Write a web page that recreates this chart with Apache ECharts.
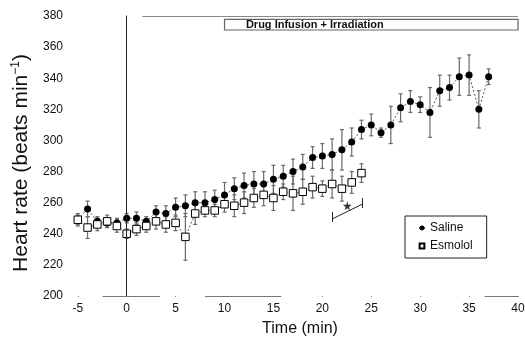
<!DOCTYPE html>
<html>
<head>
<meta charset="utf-8">
<script src="https://cdn.jsdelivr.net/npm/echarts@6/dist/echarts.min.js"></script>
<style>
  html, body { margin: 0; padding: 0; background: #fff; }
  #chart { width: 525px; height: 340px; }
</style>
</head>
<body>
<div id="chart"></div>
<script>
// Heart rate (mean ± SEM) by time, saline vs esmolol
const salineTime = [-5,-4,-3,-2,-1,0,1,2,3,4,5,6,7,8,9,10,11,12,13,14,15,16,17,18,19,20,21,22,23,24,25,26,27,28,29,30,31,32,33,34,35,36,37];
const salineHR   = [249,256,248,247,247,250,250,248,254,253,257,258,260,260,262,265,269,271,272,272,275,277,280,283,289,290,291,294,299,307,310,305,310,321,325,323,318,332,334,341,342,320,341];
const salineSEM  = [3,5,3,3,3,3,4,3,4,5,6,7,7,7,6,8,7,8,8,8,9,7,8,8,7,8,10,13,9,6,7,3,12,9,7,5,16,10,8,12,13,12,5];

const esmololTime = [-5,-4,-3,-2,-1,0,1,2,3,4,5,6,7,8,9,10,11,12,13,14,15,16,17,18,19,20,21,22,23,24];
const esmololHR   = [249,244,246,248,245,240,243,245,248,246,247,238,253,255,255,259,258,260,263,265,263,267,266,267,270,269,272,269,273,279];
const esmololSEM  = [4,7,4,4,4,3,4,4,5,5,5,15,7,4,4,5,7,7,6,7,8,5,11,8,7,5,9,8,7,6];

const xTicks = [-5,0,5,10,15,20,25,30,35,40];
const yTicks = [200,220,240,260,280,300,320,340,360,380];

const infusionStart = 0;      // drug infusion + irradiation starts
const bannerRange = [10, 40]; // labelled banner span
const sigStart = 21, sigEnd = 24.1; // significance bracket span

function pairs(xs, ys) { return xs.map((x, i) => [x, ys[i]]); }

function errorBars(name, xs, ys, sems) {
  return {
    type: 'custom',
    name: name,
    silent: true,
    z: 1,
    data: xs.map((x, i) => [x, ys[i] - sems[i], ys[i] + sems[i]]),
    encode: { x: 0, y: [1, 2] },
    renderItem(params, api) {
      const x = api.value(0);
      const lo = api.coord([x, api.value(1)]);
      const hi = api.coord([x, api.value(2)]);
      const c = 2;
      const st = { stroke: '#6a6a6a', lineWidth: 1.2 };
      return {
        type: 'group',
        children: [
          { type: 'line', shape: { x1: lo[0], y1: lo[1], x2: hi[0], y2: hi[1] }, style: st },
          { type: 'line', shape: { x1: hi[0] - c, y1: hi[1], x2: hi[0] + c, y2: hi[1] }, style: st },
          { type: 'line', shape: { x1: lo[0] - c, y1: lo[1], x2: lo[0] + c, y2: lo[1] }, style: st }
        ]
      };
    }
  };
}

const starPath = 'path://M50,0 L61,35 L98,35 L68,57 L79,91 L50,70 L21,91 L32,57 L2,35 L39,35 Z';
const font = '"Liberation Sans", Arial, sans-serif';

const chart = echarts.init(document.getElementById('chart'), null, { renderer: 'canvas' });

chart.setOption({
  animation: false,
  backgroundColor: '#fff',
  textStyle: { fontFamily: font, color: '#111' },
  grid: { left: 68, right: 7, top: 16, bottom: 44, outerBoundsMode: 'none', containLabel: false },
  legend: {
    data: ['Saline', 'Esmolol'],
    orient: 'vertical',
    left: 405, top: 216,
    padding: [6, 14, 6, 13],
    itemWidth: 6, itemHeight: 6, itemGap: 6,
    borderColor: '#222', borderWidth: 1,
    textStyle: { fontFamily: font, fontSize: 12, color: '#111' }
  },
  xAxis: {
    type: 'value',
    min: -6, max: 40,
    name: 'Time (min)',
    nameLocation: 'middle',
    nameGap: 25,
    nameTextStyle: { fontFamily: font, fontSize: 16, color: '#111', padding: [0, 0, 0, 14] },
    axisLine: { show: false },
    splitLine: { show: false },
    axisTick: { show: true, length: 1, lineStyle: { color: '#888' }, customValues: xTicks },
    axisLabel: { customValues: xTicks, fontSize: 12, color: '#111', margin: 7 }
  },
  yAxis: {
    type: 'value',
    min: 200, max: 380, interval: 20,
    name: 'Heart rate (beats min{sup|\u22121})',
    nameLocation: 'middle',
    nameGap: 34,
    nameTextStyle: {
      fontFamily: font, fontSize: 21, color: '#111', padding: [0, 14, 0, 0],
      rich: { sup: { fontFamily: font, fontSize: 12, color: '#111', padding: [0, 0, 11, 0] } }
    },
    axisLine: { show: true, lineStyle: { color: '#111', width: 1 } },
    axisTick: { show: false },
    splitLine: { show: false },
    axisLabel: { customValues: yTicks, fontSize: 12, color: '#111', margin: 5 }
  },
  series: [
    errorBars('Saline SEM', salineTime, salineHR, salineSEM),
    errorBars('Esmolol SEM', esmololTime, esmololHR, esmololSEM),
    {
      name: 'Saline',
      type: 'line',
      z: 3,
      data: pairs(salineTime, salineHR),
      symbol: 'circle',
      symbolSize: 7,
      itemStyle: { color: '#000' },
      lineStyle: { color: '#555', width: 1, type: [2, 2] },
      markLine: {
        silent: true,
        symbol: 'none',
        label: { show: false },
        lineStyle: { color: '#222', width: 1, type: 'solid' },
        data: [
          // infusion onset
          [{ coord: [infusionStart, 200] }, { coord: [infusionStart, 380] }],
          // fragments of the time axis baseline
          [{ coord: [-2.45, 200], lineStyle: { color: '#777' } }, { coord: [3.4, 200], lineStyle: { color: '#777' } }],
          [{ coord: [8, 200], lineStyle: { color: '#777' } }, { coord: [15.8, 200], lineStyle: { color: '#777' } }],
          [{ coord: [36.6, 200], lineStyle: { color: '#777' } }, { coord: [40, 200], lineStyle: { color: '#777' } }],
          // top rule
          [{ coord: [1.6, 380], lineStyle: { color: '#888' } }, { coord: [40, 380], lineStyle: { color: '#888' } }]
        ]
      },
      markArea: {
        silent: true,
        itemStyle: { color: 'rgba(0,0,0,0)', borderColor: '#666', borderWidth: 1.2 },
        label: {
          show: true, position: 'insideLeft', offset: [17, 0],
          fontFamily: font, fontSize: 11, fontWeight: 'bold', color: '#111'
        },
        data: [[{ name: 'Drug Infusion + Irradiation', coord: [bannerRange[0], 377.8] }, { coord: [bannerRange[1], 371] }]]
      }
    },
    {
      name: 'Esmolol',
      type: 'line',
      z: 4,
      data: pairs(esmololTime, esmololHR),
      symbol: 'rect',
      symbolSize: 7.5,
      itemStyle: { color: '#fff', borderColor: '#000', borderWidth: 1 },
      lineStyle: { color: '#555', width: 1, type: [2, 2] },
      markLine: {
        silent: true,
        symbol: 'none',
        label: { show: false },
        lineStyle: { color: '#222', width: 1, type: 'solid' },
        data: [
          [{ coord: [sigStart, 254] }, { coord: [sigStart, 247.6] }],
          [{ coord: [sigStart, 249.5] }, { coord: [sigEnd, 259.1] }],
          [{ coord: [sigEnd, 263] }, { coord: [sigEnd, 256.6] }]
        ]
      }
    },
    {
      name: 'significance',
      type: 'scatter',
      z: 5,
      silent: true,
      symbol: starPath,
      symbolSize: 9,
      itemStyle: { color: '#000' },
      data: [[(sigStart + sigEnd) / 2, 258]]
    }
  ]
});
</script>
</body>
</html>
